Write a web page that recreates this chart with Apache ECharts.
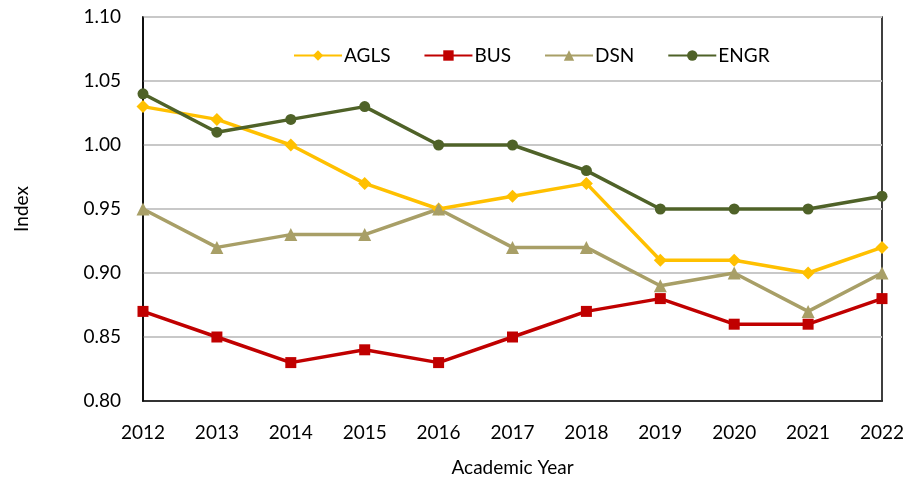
<!DOCTYPE html>
<html>
<head>
<meta charset="utf-8">
<script src="https://cdn.jsdelivr.net/npm/echarts@6/dist/echarts.min.js"></script>
<style>
  html, body { margin: 0; padding: 0; background: #fff; }
  #chart { width: 915px; height: 483px; }
</style>
</head>
<body>
<div id="chart"></div>
<script>
var years = ['2012', '2013', '2014', '2015', '2016', '2017', '2018', '2019', '2020', '2021', '2022'];
var agls = [1.03, 1.02, 1.00, 0.97, 0.95, 0.96, 0.97, 0.91, 0.91, 0.90, 0.92];
var bus  = [0.87, 0.85, 0.83, 0.84, 0.83, 0.85, 0.87, 0.88, 0.86, 0.86, 0.88];
var dsn  = [0.95, 0.92, 0.93, 0.93, 0.95, 0.92, 0.92, 0.89, 0.90, 0.87, 0.90];
var engr = [1.04, 1.01, 1.02, 1.03, 1.00, 1.00, 0.98, 0.95, 0.95, 0.95, 0.96];

var font = 'Lato, "Open Sans", sans-serif';
var chart = echarts.init(document.getElementById('chart'));

function line(name, data, color, symbol, size) {
  return {
    name: name,
    type: 'line',
    data: data,
    symbol: symbol,
    symbolSize: size,
    itemStyle: { color: color },
    lineStyle: { color: color, width: 3.5 },
    emphasis: { disabled: true }
  };
}

var option = {
  animation: false,
  textStyle: { fontFamily: font },
  grid: {
    left: 143, right: 33, top: 17, bottom: 82,
    show: true, borderColor: '#000', borderWidth: 1.5
  },
  legend: {
    left: 288, top: 41,
    itemWidth: 48, itemHeight: 13, itemGap: 33,
    textStyle: { fontSize: 19, color: '#000', fontFamily: font, padding: [0, 0, 0, -3] },
    data: ['AGLS', 'BUS', 'DSN', 'ENGR']
  },
  xAxis: {
    type: 'category',
    data: years,
    boundaryGap: false,
    name: 'Academic Year',
    nameLocation: 'middle',
    nameGap: 57,
    nameTextStyle: { fontSize: 19, color: '#000' },
    axisLine: { lineStyle: { color: '#000', width: 1.5 } },
    axisTick: { show: false },
    axisLabel: { fontSize: 19, color: '#000', margin: 22 }
  },
  yAxis: {
    type: 'value',
    min: 0.80, max: 1.10, interval: 0.05,
    name: 'Index',
    nameLocation: 'middle',
    nameGap: 112,
    nameTextStyle: { fontSize: 19, color: '#000' },
    axisLine: { show: true, lineStyle: { color: '#000', width: 1.5 } },
    axisTick: { show: false },
    axisLabel: { fontSize: 19, color: '#000', margin: 22, formatter: function (v) { return v.toFixed(2); } },
    splitLine: { lineStyle: { color: '#c8c8c8', width: 2 } }
  },
  series: [
    line('AGLS', agls, '#FFC000', 'diamond', 13),
    line('BUS', bus, '#C00000', 'rect', 11),
    line('DSN', dsn, '#A89F67', 'triangle', 13),
    line('ENGR', engr, '#4F6228', 'circle', 11)
  ]
};
chart.setOption(option);
</script>
</body>
</html>
